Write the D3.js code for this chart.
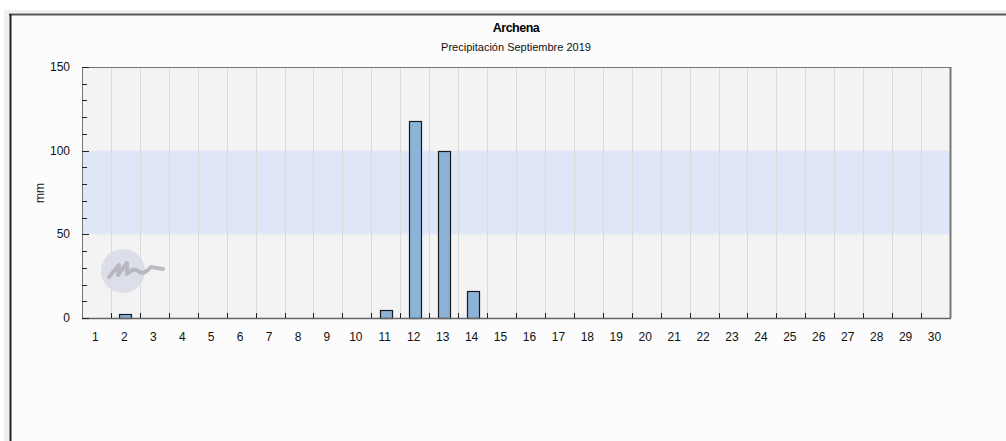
<!DOCTYPE html>
<html>
<head>
<meta charset="utf-8">
<script src="https://cdn.jsdelivr.net/npm/d3@7"></script>
<style>
  body { margin: 0; background: #ffffff; }
  text { font-family: "Liberation Sans", Arial, sans-serif; }
</style>
</head>
<body>
<div id="chart"></div>
<script>
// days of September 2019 and rainfall per day (mm)
const days = d3.range(1, 31);
const rain = [0, 2.4, 0, 0, 0, 0, 0, 0, 0, 0, 5, 118, 100, 16.3, 0, 0, 0, 0, 0, 0, 0, 0, 0, 0, 0, 0, 0, 0, 0, 0];
const yTicks = [0, 50, 100, 150];
const band = [50, 100];
const title = "Archena";
const subtitle = "Precipitación Septiembre 2019";

const W = 1006, H = 441;
const margin = { left: 82, right: 56, top: 67, bottom: 123 };

const svg = d3.select("#chart").append("svg")
  .attr("width", W).attr("height", H);

// outer frame
svg.append("rect").attr("x", 4).attr("y", 10).attr("width", W).attr("height", H)
  .attr("fill", "#f0f0f0");
svg.append("rect").attr("x", 9).attr("y", 13).attr("width", W).attr("height", H)
  .attr("fill", "#fbfcfb");
svg.append("line").attr("x1", 9).attr("x2", W).attr("y1", 14.5).attr("y2", 14.5)
  .attr("stroke", "#555").attr("stroke-width", 2);
svg.append("line").attr("x1", 10.5).attr("x2", 10.5).attr("y1", 14).attr("y2", H)
  .attr("stroke", "#222").attr("stroke-width", 2);

const x = d3.scaleBand()
  .domain(days)
  .range([margin.left, W - margin.right])
  .paddingInner(0.58).paddingOuter(0.29);
const xb = d3.scaleBand().domain(days).range([margin.left, W - margin.right]);

const y = d3.scaleLinear().domain([0, 150]).range([H - margin.bottom, margin.top]);

// plot background
svg.append("rect")
  .attr("x", margin.left).attr("y", margin.top)
  .attr("width", W - margin.left - margin.right)
  .attr("height", y(0) - margin.top)
  .attr("fill", "#f3f3f3");

// band 50-100
svg.append("rect")
  .attr("x", margin.left).attr("y", y(band[1]))
  .attr("width", W - margin.left - margin.right)
  .attr("height", y(band[0]) - y(band[1]))
  .attr("fill", "#dfe6f7");

// vertical grid lines
svg.append("g").selectAll("line")
  .data(days.slice(1))
  .join("line")
  .attr("x1", d => Math.round(xb(d)) + 0.5)
  .attr("x2", d => Math.round(xb(d)) + 0.5)
  .attr("y1", margin.top).attr("y2", y(0))
  .attr("stroke", "#dadada");

// watermark
const wm = svg.append("g").attr("transform", "translate(123,271)");
wm.append("circle").attr("r", 22).attr("fill", "#d7dbe8").attr("opacity", 0.85);
wm.append("path")
  .attr("d", "M-14,6 L-4,-6 L-5,4 L4,-8 L4,3 Q10,-4 15,0 Q20,5 28,-4 L40,-2")
  .attr("fill", "none").attr("stroke", "#b2b2b6").attr("stroke-width", 4)
  .attr("stroke-linejoin", "round").attr("stroke-linecap", "round").attr("opacity", 0.85);

// bars
svg.append("g").selectAll("rect")
  .data(days.map((d, i) => ({ day: d, v: rain[i] })).filter(d => d.v > 0))
  .join("rect")
  .attr("x", d => Math.round(x(d.day)) + 0.5)
  .attr("y", d => Math.round(y(d.v)) + 0.5)
  .attr("width", Math.round(x.bandwidth()))
  .attr("height", d => Math.round(y(0)) - Math.round(y(d.v)))
  .attr("fill", "#8cb2d8")
  .attr("stroke", "#1a1a1a").attr("stroke-width", 1.2);

// plot border
svg.append("line").attr("x1", margin.left).attr("x2", W - margin.right)
  .attr("y1", margin.top + 0.5).attr("y2", margin.top + 0.5).attr("stroke", "#777");
svg.append("line").attr("x1", W - margin.right + 0.5).attr("x2", W - margin.right + 0.5)
  .attr("y1", margin.top).attr("y2", y(0)).attr("stroke", "#777").attr("stroke-width", 2);
svg.append("line").attr("x1", margin.left + 0.5).attr("x2", margin.left + 0.5)
  .attr("y1", margin.top).attr("y2", y(0)).attr("stroke", "#777");
svg.append("line").attr("x1", margin.left).attr("x2", W - margin.right + 1)
  .attr("y1", y(0) + 0.5).attr("y2", y(0) + 0.5).attr("stroke", "#666").attr("stroke-width", 1.5);

// y axis ticks (inside)
const yMinor = d3.range(0, 151, 10).filter(v => !yTicks.includes(v));
svg.append("g").selectAll("line").data(yMinor).join("line")
  .attr("x1", margin.left).attr("x2", margin.left + 5)
  .attr("y1", d => Math.round(y(d)) + 0.5).attr("y2", d => Math.round(y(d)) + 0.5)
  .attr("stroke", "#222");
svg.append("g").selectAll("line").data(yTicks).join("line")
  .attr("x1", margin.left).attr("x2", margin.left + 7)
  .attr("y1", d => Math.round(y(d)) + 0.5).attr("y2", d => Math.round(y(d)) + 0.5)
  .attr("stroke", "#222");
svg.append("g").selectAll("text").data(yTicks).join("text")
  .attr("x", 70).attr("y", d => y(d) + 4)
  .attr("text-anchor", "end").attr("font-size", 12).attr("fill", "#111")
  .text(d => d);

// x axis ticks (inside, at boundaries)
svg.append("g").selectAll("line").data(days.slice(1)).join("line")
  .attr("x1", d => Math.round(xb(d)) + 0.5).attr("x2", d => Math.round(xb(d)) + 0.5)
  .attr("y1", y(0) - 5).attr("y2", y(0))
  .attr("stroke", "#222");
svg.append("g").selectAll("text").data(days).join("text")
  .attr("x", d => xb(d) + xb.bandwidth() / 2 - 1)
  .attr("y", y(0) + 23)
  .attr("text-anchor", "middle").attr("font-size", 12).attr("fill", "#111")
  .text(d => d);

// axis title
svg.append("text")
  .attr("transform", "translate(44,193) rotate(-90)")
  .attr("text-anchor", "middle").attr("font-size", 12).attr("fill", "#111")
  .text("mm");

// titles
const cx = (margin.left + W - margin.right) / 2;
svg.append("text").attr("x", cx).attr("y", 32)
  .attr("text-anchor", "middle").attr("font-size", 12.5).attr("font-weight", "bold")
  .attr("letter-spacing", -0.5).attr("fill", "#000")
  .text(title);
svg.append("text").attr("x", cx).attr("y", 51)
  .attr("text-anchor", "middle").attr("font-size", 11).attr("fill", "#111")
  .text(subtitle);
</script>
</body>
</html>
